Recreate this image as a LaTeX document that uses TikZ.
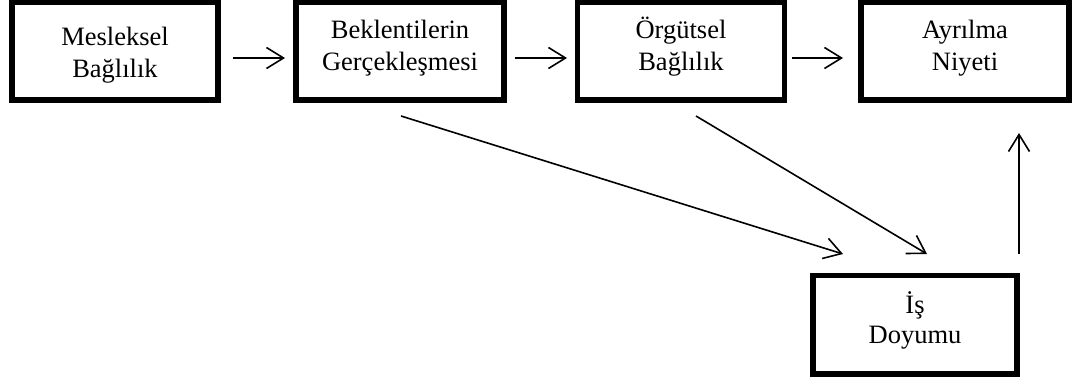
\documentclass[tikz,border=0pt]{standalone}
\usepackage{fontspec}
\setmainfont{Liberation Serif}
\usetikzlibrary{arrows.meta}
\newcommand\twolines[4]{\raisebox{#1}[0pt][0pt]{\vtop{\baselineskip=#2\halign{\hfil##\hfil\cr #3\cr #4\cr}}}}
\tikzset{
  box/.style={draw, line width=5.5pt, inner sep=0pt, outer sep=0pt, minimum height=97.5pt,
    font=\fontsize{26.5}{32}\selectfont},
  arr/.style={line width=1.6pt, -{Straight Barb[length=17pt,width=21pt]}}
}
\begin{document}
\begin{tikzpicture}[x=1pt,y=-1pt]
\useasboundingbox (0,0) rectangle (1079,381);
\node[box, minimum width=206pt] (b1) at (115,51.25) {\twolines{5.55pt}{32pt}{Mesleksel}{Bağlılık}};
\node[box, minimum width=208pt] (b2) at (400,51.25) {\twolines{12.95pt}{32pt}{Beklentilerin}{Gerçekleşmesi}};
\node[box, minimum width=207pt] (b3) at (681,51.25) {\twolines{12.95pt}{32pt}{Örgütsel}{Bağlılık}};
\node[box, minimum width=208pt] (b4) at (965,51.25) {\twolines{12.95pt}{32pt}{Ayrılma}{Niyeti}};
\node[box, minimum width=204pt, minimum height=98.5pt] (b5) at (915,324.75) {\twolines{11.25pt}{30pt}{İş}{Doyumu}};
\draw[arr] ([xshift=15pt,yshift=-6.75pt]b1.east) -- ([xshift=-11pt,yshift=-6.75pt]b2.west);
\draw[arr] ([xshift=11pt,yshift=-6.75pt]b2.east) -- ([xshift=-10.5pt,yshift=-6.75pt]b3.west);
\draw[arr] ([xshift=7.5pt,yshift=-6.75pt]b3.east) -- ([xshift=-18pt,yshift=-6.75pt]b4.west);
\draw[arr] ([xshift=1pt,yshift=-16pt]b2.south) -- ([xshift=-72pt,yshift=21.5pt]b5.north);
\draw[arr] ([xshift=15pt,yshift=-16pt]b3.south) -- ([xshift=12pt,yshift=21.5pt]b5.north);
\draw[arr] ([xshift=2pt,yshift=21.5pt]b5.north east) -- ([xshift=-50pt,yshift=-33pt]b4.south east);
\end{tikzpicture}
\end{document}
